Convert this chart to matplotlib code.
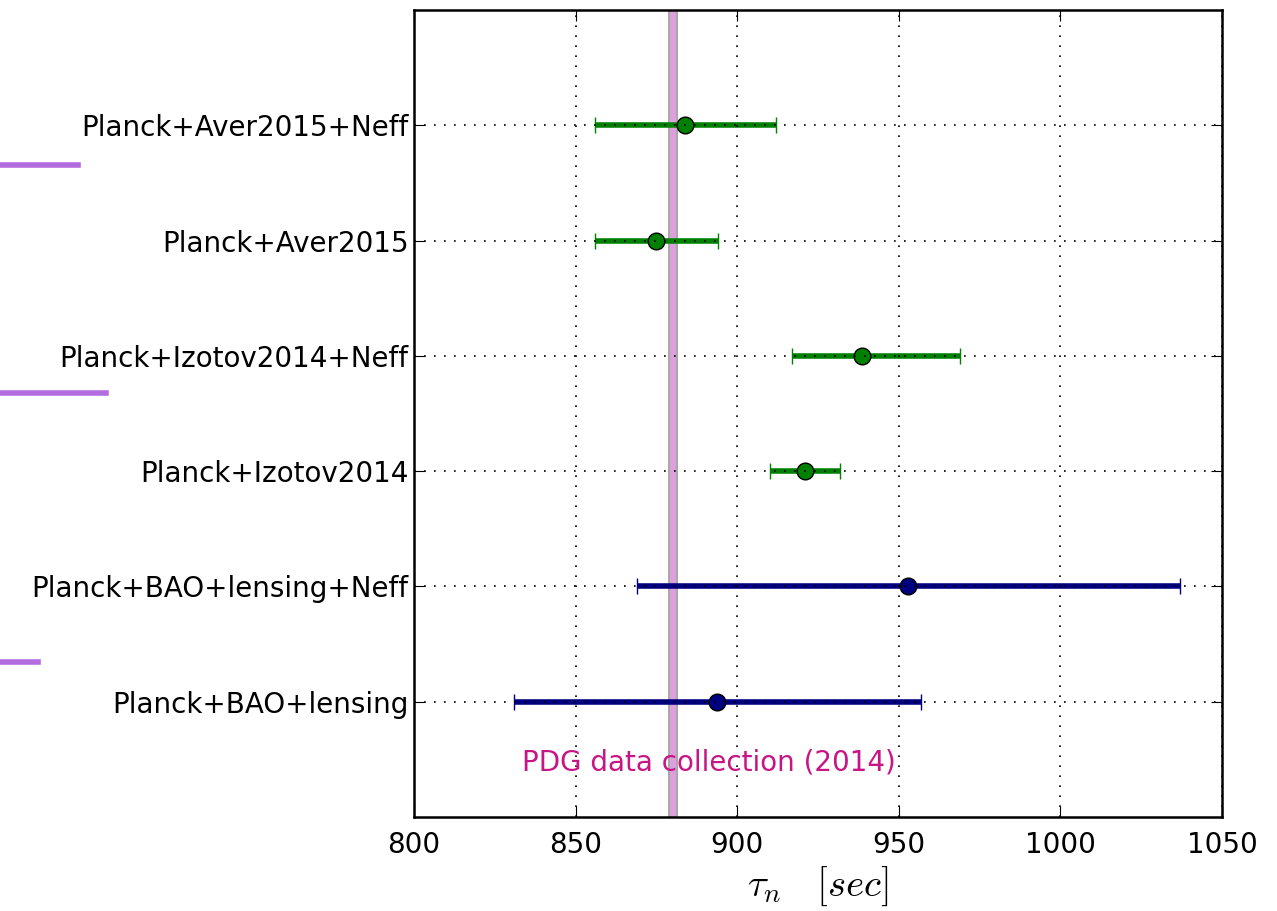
import matplotlib
matplotlib.use("Agg")
import matplotlib.pyplot as plt

plt.rcParams["mathtext.fontset"] = "cm"

# data (top to bottom in the figure)
labels = ["Planck+Aver2015+Neff", "Planck+Aver2015", "Planck+Izotov2014+Neff",
          "Planck+Izotov2014", "Planck+BAO+lensing+Neff", "Planck+BAO+lensing"]
tau = [883.8, 874.9, 938.6, 921.0, 952.8, 893.8]
lo = [856.0, 856.0, 917.0, 910.1, 869.0, 831.0]
hi = [912.0, 894.1, 968.9, 931.8, 1037.0, 956.9]
colors = ["green", "green", "green", "green", "navy", "navy"]

pdg_lo, pdg_hi = 878.8, 881.5
pdg_label = "PDG data collection (2014)"

# purple separators sticking out on the left (axes y fraction, figure x end)
sep_y = [0.808, 0.525, 0.192]
sep_x = [0.061, 0.083, 0.030]

fig = plt.figure(figsize=(12.77, 9.11), dpi=100)
ax = fig.add_axes([414 / 1277, 94 / 911, 808 / 1277, 807 / 911])

ypos = list(range(len(labels), 0, -1))

ax.axvspan(pdg_lo, pdg_hi, facecolor="plum", edgecolor="darkgray", lw=1.5, zorder=1)

for y, t, l, h, c in zip(ypos, tau, lo, hi, colors):
    ax.errorbar([t], [y], xerr=[[t - l], [h - t]], fmt="o", color=c, ecolor=c,
                elinewidth=4, capsize=6, capthick=1.5, ms=12, mec="black",
                mew=1, zorder=2)

ax.text((pdg_lo + pdg_hi) / 2 + 11, 0.47, pdg_label, color="mediumvioletred",
        fontsize=20, ha="center", va="center")

ax.set_xlim(800, 1050)
ax.set_ylim(0, 7)
ax.set_yticks(ypos)
ax.set_yticklabels(labels, fontsize=20)
ax.set_xticks([800, 850, 900, 950, 1000, 1050])
ax.tick_params(axis="x", labelsize=20, direction="in", length=8, pad=10,
               top=True)
ax.tick_params(axis="y", direction="in", length=8, pad=4, right=True)
ax.grid(True, color="black", linestyle=(0, (1, 5)), linewidth=1.2, zorder=5)
ax.set_axisbelow(False)
for s in ax.spines.values():
    s.set_linewidth(1.8)
ax.set_xlabel(r"$\tau_n \quad [sec]$", fontsize=28, labelpad=4)

for yy, xx in zip(sep_y, sep_x):
    y_fig = (94 + yy * 807) / 911
    fig.add_artist(plt.Line2D([0, xx], [y_fig, y_fig], color="#b36be0", lw=4,
                              transform=fig.transFigure))

fig.savefig("out.png", dpi=100)
